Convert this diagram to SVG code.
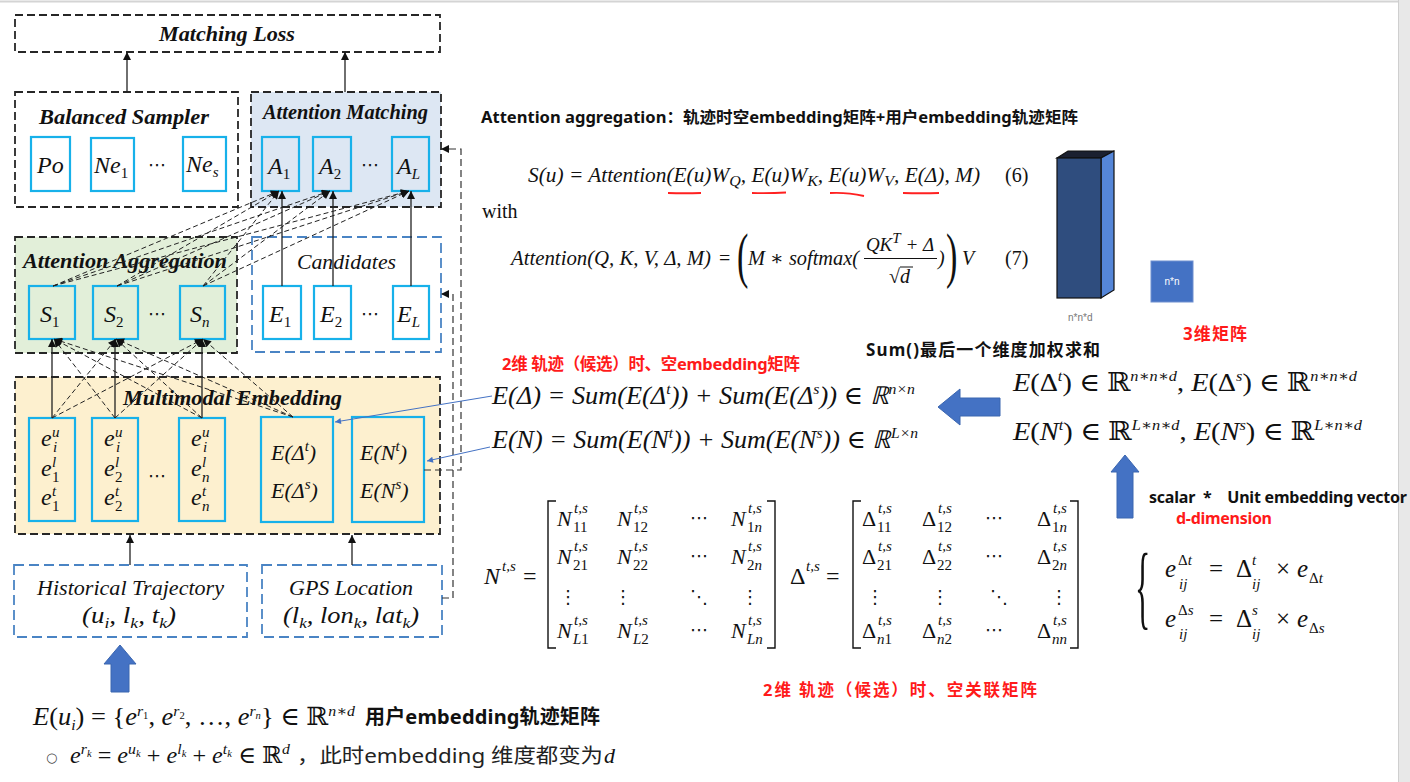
<svg xmlns="http://www.w3.org/2000/svg" width="1410" height="782" viewBox="0 0 1410 782">
<style>
.bk{fill:none;stroke:#262626;stroke-width:1.8;stroke-dasharray:8 4}
.bl{fill:none;stroke:#4a84c4;stroke-width:1.8;stroke-dasharray:10 5}
.fblue{fill:#dde7f3}
.fgreen{fill:#e2efd9}
.fyel{fill:#fdf0cf}
.fwhite{fill:#ffffff}
.cy{fill:none;stroke:#17b1ea;stroke-width:2.2}
.ttl{font-family:"Liberation Serif",serif;font-weight:bold;font-style:italic;font-size:21px;fill:#111}
.it{font-family:"Liberation Serif",serif;font-style:italic;font-size:21px;fill:#111}
.mi{font-family:"Liberation Serif","DejaVu Serif",serif;font-style:italic;font-size:23px;fill:#111}
.rm{font-family:"Liberation Serif","DejaVu Serif",serif;font-size:20px;fill:#111}
.sb{font-size:15px;font-style:normal}
.si{font-size:15px}
.sp{font-size:15px}
.ss{font-size:10px}
.dots{font-family:"DejaVu Sans",sans-serif;font-size:18px;fill:#111}
.sol{stroke:#222;stroke-width:1.3;fill:none}
.dsh{stroke:#222;stroke-width:1;fill:none;stroke-dasharray:5 3}
.fb{stroke:#333;stroke-width:1.2;fill:none;stroke-dasharray:7 4}
.bth{stroke:#4472c4;stroke-width:1;fill:none}
.cn{font-family:"Noto Sans","Noto Sans CJK SC",sans-serif;font-weight:bold;font-size:16px;fill:#111}
.cnr{font-family:"Noto Sans","Noto Sans CJK SC",sans-serif;font-size:20px;fill:#222}
.red{fill:#ff1a1a}
.barrow{fill:#4472c4;stroke:#3b66b0;stroke-width:1}
.brk{fill:none;stroke:#111;stroke-width:1.4}
</style>
<defs>
<marker id="ah" viewBox="0 0 10 10" refX="10" refY="5" markerWidth="9" markerHeight="8" markerUnits="userSpaceOnUse" orient="auto"><path d="M0,0 L10,5 L0,10 z" fill="#111"/></marker>
<marker id="ahb" viewBox="0 0 10 10" refX="10" refY="5" markerWidth="7" markerHeight="6" markerUnits="userSpaceOnUse" orient="auto"><path d="M0,0 L10,5 L0,10 z" fill="#4472c4"/></marker>
</defs>
<rect x="0" y="0" width="1410" height="782" fill="#ffffff"/>
<line x1="0" y1="1.5" x2="1410" y2="1.5" stroke="#d4d4d4" stroke-width="2"/>
<rect x="1398" y="0" width="12" height="782" fill="#e8e8e8"/>
<line x1="1398.5" y1="0" x2="1398.5" y2="782" stroke="#cfcfcf" stroke-width="1"/>

<g id="matching-loss">
<rect class="bk" x="15" y="15" width="425" height="37"/>
<text class="ttl" x="159" y="41" textLength="136" lengthAdjust="spacingAndGlyphs">Matching Loss</text>
</g>

<g id="balanced-sampler">
<rect class="bk" x="15" y="92" width="223" height="115"/>
<text class="ttl" x="39" y="124" textLength="170" lengthAdjust="spacingAndGlyphs">Balanced Sampler</text>
<rect class="cy" x="31" y="137" width="39" height="54"/>
<text class="mi" x="37" y="173" style="font-size:24px">Po</text>
<rect class="cy" x="91" y="138" width="43" height="53"/>
<text class="mi" x="94" y="173" style="font-size:24px">Ne<tspan class="sb" dy="5">1</tspan></text>
<text class="dots" x="148" y="171">⋯</text>
<rect class="cy" x="183" y="137" width="43" height="54"/>
<text class="mi" x="186" y="172" style="font-size:24px">Ne<tspan class="si" dy="5">s</tspan></text>
</g>

<g id="attention-matching">
<rect class="bk fblue" x="251" y="92" width="190" height="115"/>
<text class="ttl" x="263" y="119" textLength="165" lengthAdjust="spacingAndGlyphs">Attention Matching</text>
<rect class="cy" x="262" y="137" width="37" height="54"/>
<text class="mi" x="268" y="174" style="font-size:24px">A<tspan class="sb" dy="5">1</tspan></text>
<rect class="cy" x="313" y="137" width="38" height="54"/>
<text class="mi" x="319" y="174" style="font-size:24px">A<tspan class="sb" dy="5">2</tspan></text>
<text class="dots" x="361" y="171">⋯</text>
<rect class="cy" x="392" y="137" width="37" height="54"/>
<text class="mi" x="397" y="174" style="font-size:24px">A<tspan class="si" dy="5">L</tspan></text>
</g>

<g id="attention-aggregation">
<rect class="bk fgreen" x="15" y="237" width="222" height="116"/>
<text class="ttl" x="23" y="268" textLength="204" lengthAdjust="spacingAndGlyphs">Attention Aggregation</text>
<rect class="cy" x="29" y="286" width="46" height="53"/>
<text class="mi" x="40" y="322" style="font-size:24px">S<tspan class="sb" dy="5">1</tspan></text>
<rect class="cy" x="93" y="286" width="45" height="53"/>
<text class="mi" x="104" y="322" style="font-size:24px">S<tspan class="sb" dy="5">2</tspan></text>
<text class="dots" x="148" y="320">⋯</text>
<rect class="cy" x="180" y="286" width="45" height="53"/>
<text class="mi" x="190" y="322" style="font-size:24px">S<tspan class="si" dy="5">n</tspan></text>
</g>

<g id="candidates">
<rect class="bl fwhite" x="252" y="237" width="189" height="115"/>
<text class="it" x="297" y="269" textLength="99" lengthAdjust="spacingAndGlyphs">Candidates</text>
<rect class="cy" x="263" y="286" width="38" height="53"/>
<text class="mi" x="269" y="322" style="font-size:24px">E<tspan class="sb" dy="5">1</tspan></text>
<rect class="cy" x="314" y="286" width="37" height="53"/>
<text class="mi" x="320" y="322" style="font-size:24px">E<tspan class="sb" dy="5">2</tspan></text>
<text class="dots" x="361" y="320">⋯</text>
<rect class="cy" x="393" y="286" width="36" height="53"/>
<text class="mi" x="397" y="322" style="font-size:24px">E<tspan class="si" dy="5">L</tspan></text>
</g>

<g id="multimodal-embedding">
<rect class="bk fyel" x="15" y="377" width="425" height="157"/>
<text class="ttl" x="123" y="405" textLength="219" lengthAdjust="spacingAndGlyphs">Multimodal Embedding</text>
<rect class="cy" x="29" y="418" width="46" height="103"/>
<text class="mi" x="41" y="446" style="font-size:24px">e</text><text class="mi si" x="52" y="437">u</text><text class="mi si" x="53" y="452">i</text>
<text class="mi" x="41" y="476" style="font-size:24px">e</text><text class="mi si" x="52" y="467">l</text><text class="mi sb" x="52" y="482">1</text>
<text class="mi" x="41" y="505" style="font-size:24px">e</text><text class="mi si" x="52" y="496">t</text><text class="mi sb" x="52" y="511">1</text>
<rect class="cy" x="92" y="418" width="46" height="103"/>
<text class="mi" x="104" y="446" style="font-size:24px">e</text><text class="mi si" x="115" y="437">u</text><text class="mi si" x="116" y="452">i</text>
<text class="mi" x="104" y="476" style="font-size:24px">e</text><text class="mi si" x="115" y="467">l</text><text class="mi sb" x="115" y="482">2</text>
<text class="mi" x="104" y="505" style="font-size:24px">e</text><text class="mi si" x="115" y="496">t</text><text class="mi sb" x="115" y="511">2</text>
<text class="dots" x="148" y="482">⋯</text>
<rect class="cy" x="179" y="418" width="46" height="103"/>
<text class="mi" x="191" y="446" style="font-size:24px">e</text><text class="mi si" x="202" y="437">u</text><text class="mi si" x="203" y="452">i</text>
<text class="mi" x="191" y="476" style="font-size:24px">e</text><text class="mi si" x="202" y="467">l</text><text class="mi si" x="202" y="482">n</text>
<text class="mi" x="191" y="505" style="font-size:24px">e</text><text class="mi si" x="202" y="496">t</text><text class="mi si" x="202" y="511">n</text>
<rect class="cy" x="261" y="417" width="72" height="105"/>
<text class="mi" x="271" y="460" style="font-size:22px">E(Δ<tspan class="sp" dy="-9">t</tspan><tspan dy="9">)</tspan></text>
<text class="mi" x="271" y="498" style="font-size:22px">E(Δ<tspan class="sp" dy="-9">s</tspan><tspan dy="9">)</tspan></text>
<rect class="cy" x="352" y="417" width="72" height="105"/>
<text class="mi" x="360" y="460" style="font-size:22px">E(N<tspan class="sp" dy="-9">t</tspan><tspan dy="9">)</tspan></text>
<text class="mi" x="360" y="498" style="font-size:22px">E(N<tspan class="sp" dy="-9">s</tspan><tspan dy="9">)</tspan></text>
</g>

<g id="historical-trajectory">
<rect class="bl" x="14" y="565" width="233" height="72"/>
<text class="it" x="37" y="595" textLength="187" lengthAdjust="spacingAndGlyphs">Historical Trajectory</text>
<text class="mi" x="82" y="623" style="font-size:23px" textLength="94" lengthAdjust="spacingAndGlyphs">(u<tspan class="si" dy="5">i</tspan><tspan dy="-5">, l</tspan><tspan class="si" dy="5">k</tspan><tspan dy="-5">, t</tspan><tspan class="si" dy="5">k</tspan><tspan dy="-5">)</tspan></text>
</g>

<g id="gps-location">
<rect class="bl" x="262" y="565" width="180" height="72"/>
<text class="it" x="289" y="595" textLength="124" lengthAdjust="spacingAndGlyphs">GPS Location</text>
<text class="mi" x="283" y="623" style="font-size:23px" textLength="136" lengthAdjust="spacingAndGlyphs">(l<tspan class="si" dy="5">k</tspan><tspan dy="-5">, lon</tspan><tspan class="si" dy="5">k</tspan><tspan dy="-5">, lat</tspan><tspan class="si" dy="5">k</tspan><tspan dy="-5">)</tspan></text>
</g>

<g id="connectors">
<line class="sol" x1="127" y1="92" x2="127" y2="52" marker-end="url(#ah)"/>
<line class="sol" x1="345" y1="92" x2="345" y2="52" marker-end="url(#ah)"/>
<line class="sol" x1="282" y1="286" x2="282" y2="191" marker-end="url(#ah)"/>
<line class="sol" x1="333" y1="286" x2="333" y2="191" marker-end="url(#ah)"/>
<line class="sol" x1="411" y1="286" x2="411" y2="191" marker-end="url(#ah)"/>
<line class="sol" x1="52" y1="418" x2="52" y2="339" marker-end="url(#ah)"/>
<line class="sol" x1="115" y1="418" x2="115" y2="339" marker-end="url(#ah)"/>
<line class="sol" x1="202" y1="418" x2="202" y2="339" marker-end="url(#ah)"/>
<line class="sol" x1="130" y1="565" x2="130" y2="535" marker-end="url(#ah)"/>
<line class="sol" x1="352" y1="565" x2="352" y2="535" marker-end="url(#ah)"/>
<line class="dsh" x1="53" y1="286" x2="279" y2="191" marker-end="url(#ah)"/>
<line class="dsh" x1="53" y1="286" x2="330" y2="191" marker-end="url(#ah)"/>
<line class="dsh" x1="53" y1="286" x2="409" y2="191" marker-end="url(#ah)"/>
<line class="dsh" x1="117" y1="286" x2="279" y2="191" marker-end="url(#ah)"/>
<line class="dsh" x1="117" y1="286" x2="330" y2="191" marker-end="url(#ah)"/>
<line class="dsh" x1="117" y1="286" x2="409" y2="191" marker-end="url(#ah)"/>
<line class="dsh" x1="203" y1="286" x2="279" y2="191" marker-end="url(#ah)"/>
<line class="dsh" x1="203" y1="286" x2="330" y2="191" marker-end="url(#ah)"/>
<line class="dsh" x1="203" y1="286" x2="409" y2="191" marker-end="url(#ah)"/>
<line class="dsh" x1="115" y1="418" x2="54" y2="339" marker-end="url(#ah)"/>
<line class="dsh" x1="202" y1="418" x2="54" y2="339" marker-end="url(#ah)"/>
<line class="dsh" x1="293" y1="417" x2="54" y2="339" marker-end="url(#ah)"/>
<line class="dsh" x1="52" y1="418" x2="116" y2="339" marker-end="url(#ah)"/>
<line class="dsh" x1="202" y1="418" x2="116" y2="339" marker-end="url(#ah)"/>
<line class="dsh" x1="293" y1="417" x2="116" y2="339" marker-end="url(#ah)"/>
<line class="dsh" x1="52" y1="418" x2="203" y2="339" marker-end="url(#ah)"/>
<line class="dsh" x1="115" y1="418" x2="203" y2="339" marker-end="url(#ah)"/>
<line class="dsh" x1="293" y1="417" x2="203" y2="339" marker-end="url(#ah)"/>
<polyline class="fb" points="424,470 461,470 461,149 441,149" marker-end="url(#ah)"/>
<polyline class="fb" points="442,598 453,598 453,294 441,294" marker-end="url(#ah)"/>
<line class="bth" x1="492" y1="396" x2="335" y2="422" marker-end="url(#ahb)"/>
<line class="bth" x1="490" y1="447" x2="427" y2="461" marker-end="url(#ahb)"/>
</g>

<g id="attention-formulas">
<text class="cn" x="481" y="123" textLength="597" lengthAdjust="spacingAndGlyphs">Attention aggregation：轨迹时空embedding矩阵+用户embedding轨迹矩阵</text>
<text class="mi" x="528" y="182" style="font-size:20px" textLength="452" lengthAdjust="spacingAndGlyphs">S(u) = Attention(E(u)W<tspan class="si" dy="4">Q</tspan><tspan dy="-4">, E(u)W</tspan><tspan class="si" dy="4">K</tspan><tspan dy="-4">, E(u)W</tspan><tspan class="si" dy="4">V</tspan><tspan dy="-4">, E(Δ), M)</tspan></text>
<path d="M668,193 q16,0.5 33,0 M752,193 q17,0.5 34,-0.5 M830,193 q16,-1 34,3 M903,193 q18,0.5 36,0" fill="none" stroke="#ff2020" stroke-width="1.8"/>
<text class="rm" x="1005" y="182">(6)</text>
<text class="rm" x="482" y="218">with</text>
<text class="mi" x="511" y="265" style="font-size:20px" textLength="200" lengthAdjust="spacingAndGlyphs">Attention(Q, K, V, Δ, M)</text>
<text class="rm" x="719" y="265">=</text>
<text class="rm" transform="translate(737,276) scale(0.55,1)" style="font-size:62px">(</text>
<text class="mi" x="748" y="265" style="font-size:20px" textLength="111" lengthAdjust="spacingAndGlyphs">M ∗ softmax(</text>
<text class="mi" x="900" y="251" style="font-size:19px" text-anchor="middle">QK<tspan class="sp" dy="-8">T</tspan><tspan dy="8"> + Δ</tspan></text>
<line x1="864" y1="258.5" x2="937" y2="258.5" stroke="#111" stroke-width="1"/>
<text class="rm" x="889" y="283" style="font-size:20px">√<tspan font-style="italic">d</tspan></text>
<line x1="900" y1="267" x2="913" y2="267" stroke="#111" stroke-width="1"/>
<text class="mi" x="938" y="265" style="font-size:20px">)</text>
<text class="rm" transform="translate(946,276) scale(0.55,1)" style="font-size:62px">)</text>
<text class="mi" x="962" y="265" style="font-size:20px">V</text>
<text class="rm" x="1005" y="265">(7)</text>
</g>

<g id="tensor-3d">
<polygon points="1057,158 1068,151 1114,151 1101,158" fill="#1b2030" stroke="#111" stroke-width="1.2"/>
<polygon points="1101,158 1114,151 1114,290 1101,298" fill="#5586d8" stroke="#111" stroke-width="1.2"/>
<rect x="1057" y="158" width="44" height="140" fill="#2f4d7e" stroke="#111" stroke-width="1.2"/>
<text x="1068" y="321" style="font-family:'Liberation Sans',sans-serif;font-size:10px;fill:#777">n*n*d</text>
</g>

<g id="matrix-2d">
<rect x="1151" y="261" width="42" height="41" fill="#4472c4" stroke="#6e8fcf" stroke-width="1"/>
<text x="1172" y="285" text-anchor="middle" style="font-family:'Liberation Sans',sans-serif;font-size:10px;fill:#ffffff">n*n</text>
<text class="cn red" x="1183" y="340" style="font-size:17px" textLength="64">3维矩阵</text>
</g>

<g id="sum-formulas">
<text class="cn" x="866" y="356" style="font-size:17px" textLength="234">Sum()最后一个维度加权求和</text>
<text class="cn red" x="502" y="370" style="font-size:16.5px" textLength="298">2维 轨迹（候选）时、空embedding矩阵</text>
<text class="mi" x="492" y="404" style="font-size:25px" textLength="423" lengthAdjust="spacingAndGlyphs">E(Δ) = Sum(E(Δ<tspan class="sp" dy="-10">t</tspan><tspan dy="10">)) + Sum(E(Δ</tspan><tspan class="sp" dy="-10">s</tspan><tspan dy="10">)) ∈ ℝ</tspan><tspan class="sp" dy="-10">n×n</tspan></text>
<text class="mi" x="492" y="448" style="font-size:25px" textLength="426" lengthAdjust="spacingAndGlyphs">E(N) = Sum(E(N<tspan class="sp" dy="-10">t</tspan><tspan dy="10">)) + Sum(E(N</tspan><tspan class="sp" dy="-10">s</tspan><tspan dy="10">)) ∈ ℝ</tspan><tspan class="sp" dy="-10">L×n</tspan></text>
<polygon class="barrow" points="938,407 960,389 960,398 1000,398 1000,416 960,416 960,425"/>
<text class="rm" x="1013" y="391" style="font-size:26px" textLength="344" lengthAdjust="spacingAndGlyphs"><tspan font-style="italic">E</tspan>(Δ<tspan class="sp" font-style="italic" dy="-10">t</tspan><tspan dy="10">) ∈ ℝ</tspan><tspan class="sp" font-style="italic" dy="-10">n∗n∗d</tspan><tspan dy="10">,  </tspan><tspan font-style="italic">E</tspan>(Δ<tspan class="sp" font-style="italic" dy="-10">s</tspan><tspan dy="10">) ∈ ℝ</tspan><tspan class="sp" font-style="italic" dy="-10">n∗n∗d</tspan></text>
<text class="rm" x="1013" y="440" style="font-size:26px" textLength="349" lengthAdjust="spacingAndGlyphs"><tspan font-style="italic">E</tspan>(<tspan font-style="italic">N</tspan><tspan class="sp" font-style="italic" dy="-10">t</tspan><tspan dy="10">) ∈ ℝ</tspan><tspan class="sp" font-style="italic" dy="-10">L∗n∗d</tspan><tspan dy="10">,  </tspan><tspan font-style="italic">E</tspan>(<tspan font-style="italic">N</tspan><tspan class="sp" font-style="italic" dy="-10">s</tspan><tspan dy="10">) ∈ ℝ</tspan><tspan class="sp" font-style="italic" dy="-10">L∗n∗d</tspan></text>
<polygon class="barrow" points="1125,455 1139,472 1133,472 1133,518 1117,518 1117,472 1111,472"/>
<text class="cn" x="1149" y="503" style="white-space:pre" textLength="258">scalar  *    Unit embedding vector</text>
<text class="cn red" x="1176" y="524" textLength="96">d-dimension</text>
</g>

<g id="unit-embedding">
<text class="rm" transform="translate(1135,618) scale(0.55,1.6)" style="font-size:58px">{</text>
<text class="mi" x="1165" y="577" style="font-size:25px">e</text><text class="mi sb" x="1178" y="565">Δ<tspan font-style="italic">t</tspan></text><text class="mi si" x="1179" y="589">ij</text>
<text class="rm" x="1209" y="577" style="font-size:25px">=</text>
<text class="rm" x="1236" y="577" style="font-size:25px">Δ</text><text class="mi si" x="1252" y="565">t</text><text class="mi si" x="1252" y="589">ij</text>
<text class="rm" x="1276" y="577" style="font-size:25px">×</text>
<text class="mi" x="1297" y="577" style="font-size:25px">e</text><text class="mi sb" x="1309" y="583">Δ<tspan font-style="italic">t</tspan></text>
<text class="mi" x="1165" y="627" style="font-size:25px">e</text><text class="mi sb" x="1178" y="615">Δ<tspan font-style="italic">s</tspan></text><text class="mi si" x="1179" y="639">ij</text>
<text class="rm" x="1209" y="627" style="font-size:25px">=</text>
<text class="rm" x="1236" y="627" style="font-size:25px">Δ</text><text class="mi si" x="1252" y="615">s</text><text class="mi si" x="1252" y="639">ij</text>
<text class="rm" x="1276" y="627" style="font-size:25px">×</text>
<text class="mi" x="1297" y="627" style="font-size:25px">e</text><text class="mi sb" x="1309" y="633">Δ<tspan font-style="italic">s</tspan></text>
</g>

<g id="matrix-N">
<text class="mi" x="484" y="584" style="font-size:24px">N</text><text class="mi si" x="502" y="571">t,s</text>
<text class="rm" x="523" y="584" style="font-size:24px">=</text>
<polyline class="brk" points="556,501 548,501 548,648 556,648"/>
<polyline class="brk" points="767,501 775,501 775,648 767,648"/>
<text class="mi" x="557" y="526" style="font-size:22px">N</text><text class="mi si" x="574" y="513">t,s</text><text class="mi sb" x="573" y="532">11</text>
<text class="mi" x="617" y="526" style="font-size:22px">N</text><text class="mi si" x="634" y="513">t,s</text><text class="mi sb" x="633" y="532">12</text>
<text class="dots" x="690" y="524">⋯</text>
<text class="mi" x="731" y="526" style="font-size:22px">N</text><text class="mi si" x="748" y="513">t,s</text><text class="mi si" x="747" y="532"><tspan font-style="normal">1</tspan>n</text>
<text class="mi" x="557" y="564" style="font-size:22px">N</text><text class="mi si" x="574" y="551">t,s</text><text class="mi sb" x="573" y="570">21</text>
<text class="mi" x="617" y="564" style="font-size:22px">N</text><text class="mi si" x="634" y="551">t,s</text><text class="mi sb" x="633" y="570">22</text>
<text class="dots" x="690" y="562">⋯</text>
<text class="mi" x="731" y="564" style="font-size:22px">N</text><text class="mi si" x="748" y="551">t,s</text><text class="mi si" x="747" y="570"><tspan font-style="normal">2</tspan>n</text>
<text class="dots" x="559" y="603">⋮</text>
<text class="dots" x="614" y="603">⋮</text>
<text class="dots" x="690" y="603">⋱</text>
<text class="dots" x="741" y="603">⋮</text>
<text class="mi" x="557" y="638" style="font-size:22px">N</text><text class="mi si" x="574" y="625">t,s</text><text class="mi si" x="573" y="644">L<tspan font-style="normal">1</tspan></text>
<text class="mi" x="617" y="638" style="font-size:22px">N</text><text class="mi si" x="634" y="625">t,s</text><text class="mi si" x="633" y="644">L<tspan font-style="normal">2</tspan></text>
<text class="dots" x="690" y="636">⋯</text>
<text class="mi" x="731" y="638" style="font-size:22px">N</text><text class="mi si" x="748" y="625">t,s</text><text class="mi si" x="747" y="644">Ln</text>
</g>

<g id="matrix-Delta">
<text class="rm" x="790" y="584" style="font-size:24px">Δ</text><text class="mi si" x="806" y="571">t,s</text>
<text class="rm" x="826" y="584" style="font-size:24px">=</text>
<polyline class="brk" points="861,501 853,501 853,648 861,648"/>
<polyline class="brk" points="1070,501 1078,501 1078,648 1070,648"/>
<text class="rm" x="862" y="526" style="font-size:22px">Δ</text><text class="mi si" x="878" y="513">t,s</text><text class="mi sb" x="877" y="532">11</text>
<text class="rm" x="922" y="526" style="font-size:22px">Δ</text><text class="mi si" x="938" y="513">t,s</text><text class="mi sb" x="937" y="532">12</text>
<text class="dots" x="985" y="524">⋯</text>
<text class="rm" x="1037" y="526" style="font-size:22px">Δ</text><text class="mi si" x="1053" y="513">t,s</text><text class="mi si" x="1052" y="532"><tspan font-style="normal">1</tspan>n</text>
<text class="rm" x="862" y="564" style="font-size:22px">Δ</text><text class="mi si" x="878" y="551">t,s</text><text class="mi sb" x="877" y="570">21</text>
<text class="rm" x="922" y="564" style="font-size:22px">Δ</text><text class="mi si" x="938" y="551">t,s</text><text class="mi sb" x="937" y="570">22</text>
<text class="dots" x="985" y="562">⋯</text>
<text class="rm" x="1037" y="564" style="font-size:22px">Δ</text><text class="mi si" x="1053" y="551">t,s</text><text class="mi si" x="1052" y="570"><tspan font-style="normal">2</tspan>n</text>
<text class="dots" x="866" y="603">⋮</text>
<text class="dots" x="931" y="603">⋮</text>
<text class="dots" x="990" y="603">⋱</text>
<text class="dots" x="1050" y="603">⋮</text>
<text class="rm" x="862" y="638" style="font-size:22px">Δ</text><text class="mi si" x="878" y="625">t,s</text><text class="mi si" x="877" y="644">n<tspan font-style="normal">1</tspan></text>
<text class="rm" x="922" y="638" style="font-size:22px">Δ</text><text class="mi si" x="938" y="625">t,s</text><text class="mi si" x="937" y="644">n<tspan font-style="normal">2</tspan></text>
<text class="dots" x="985" y="636">⋯</text>
<text class="rm" x="1037" y="638" style="font-size:22px">Δ</text><text class="mi si" x="1053" y="625">t,s</text><text class="mi si" x="1052" y="644">nn</text>
<text class="cn red" x="763" y="696" style="font-size:16.5px" textLength="274">2维 轨迹（候选）时、空关联矩阵</text>
</g>

<g id="user-embedding">
<polygon class="barrow" points="120,645 136,664 129,664 129,692 111,692 111,664 104,664"/>
<text class="rm" x="33" y="725" style="font-size:25px" textLength="322" lengthAdjust="spacingAndGlyphs"><tspan font-style="italic">E</tspan>(<tspan font-style="italic">u</tspan><tspan class="si" font-style="italic" dy="5">i</tspan><tspan dy="-5">) = {</tspan><tspan font-style="italic">e</tspan><tspan class="sp" font-style="italic" dy="-9">r</tspan><tspan class="ss" dy="3">1</tspan><tspan dy="6">, </tspan><tspan font-style="italic">e</tspan><tspan class="sp" font-style="italic" dy="-9">r</tspan><tspan class="ss" dy="3">2</tspan><tspan dy="6">, …, </tspan><tspan font-style="italic">e</tspan><tspan class="sp" font-style="italic" dy="-9">r</tspan><tspan class="ss" font-style="italic" dy="3">n</tspan><tspan dy="6">} ∈ ℝ</tspan><tspan class="sp" font-style="italic" dy="-9">n∗d</tspan></text>
<text class="cn" x="365" y="724" style="font-size:20px" textLength="235">用户embedding轨迹矩阵</text>
<text x="46" y="762" style="font-family:'DejaVu Sans',sans-serif;font-size:13px;fill:#444">○</text>
<text class="rm" x="70" y="763" style="font-size:23px" textLength="220" lengthAdjust="spacingAndGlyphs"><tspan font-style="italic">e</tspan><tspan class="sp" font-style="italic" dy="-9">r</tspan><tspan class="ss" font-style="italic" dy="3">k</tspan><tspan dy="6"> = </tspan><tspan font-style="italic">e</tspan><tspan class="sp" font-style="italic" dy="-9">u</tspan><tspan class="ss" font-style="italic" dy="3">k</tspan><tspan dy="6"> + </tspan><tspan font-style="italic">e</tspan><tspan class="sp" font-style="italic" dy="-9">l</tspan><tspan class="ss" font-style="italic" dy="3">k</tspan><tspan dy="6"> + </tspan><tspan font-style="italic">e</tspan><tspan class="sp" font-style="italic" dy="-9">t</tspan><tspan class="ss" font-style="italic" dy="3">k</tspan><tspan dy="6"> ∈ ℝ</tspan><tspan class="sp" font-style="italic" dy="-9">d</tspan></text>
<text class="cnr" x="297" y="763" textLength="306" lengthAdjust="spacingAndGlyphs">，此时embedding 维度都变为</text>
<text class="mi" x="604" y="763" style="font-size:22px">d</text>
</g>
</svg>
